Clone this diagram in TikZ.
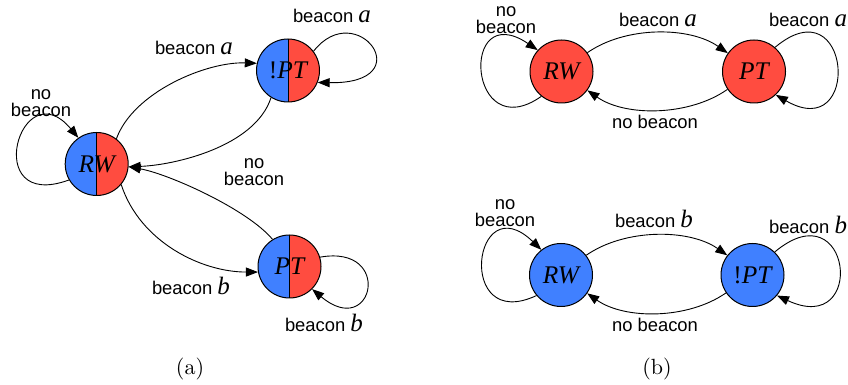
\documentclass[tikz,border=0pt]{standalone}
\usepackage{fontspec}
\newfontfamily\labfont{Liberation Sans}
\newfontfamily\tmfont{Liberation Serif}
\newfontfamily\capfont{lmroman10-regular.otf}
\usetikzlibrary{arrows.meta}
\definecolor{cblue}{RGB}{64,128,255}
\definecolor{cred}{RGB}{255,76,64}
\newcommand{\mv}[1]{{\fontsize{25}{25}\selectfont\tmfont\itshape #1}}
\newcommand{\stxt}[1]{{\fontsize{25.4}{26}\selectfont\tmfont #1}}
\tikzset{
  state/.style={circle, draw, line width=1pt, minimum size=63pt, inner sep=0pt},
  halfst/.style={state, path picture={
      \fill[cblue] (path picture bounding box.south west) rectangle (path picture bounding box.north);
      \fill[cred] (path picture bounding box.south) rectangle (path picture bounding box.north east);
      \draw[line width=1pt] (path picture bounding box.south) -- (path picture bounding box.north);}},
  redst/.style={state, fill=cred},
  bluest/.style={state, fill=cblue},
  lab/.style={font=\labfont\fontsize{18.4}{17}\selectfont, inner sep=0pt},
  capt/.style={inner sep=0pt, anchor=base},
  arr/.style={line width=0.9pt, -{Triangle[length=12pt,width=9pt]}},
}
\begin{document}
\begin{tikzpicture}[x=1pt,y=1pt]
\useasboundingbox (0,0) rectangle (848,385);
% ---------- (a) ----------
\node[halfst] (aRW) at (96.7,221) {\stxt{\itshape RW}};
\node[halfst] (anPT) at (288,314.5) {\stxt{!\itshape PT}};
\node[halfst] (aPT) at (289.5,118.5) {\stxt{\itshape PT}};

\draw[arr] (aRW.210) .. controls +(200:95) and +(130:90) .. (aRW.125);
\draw[arr] (aRW.52) .. controls +(70:50) and +(178:50) .. (anPT.167);
\draw[arr] (anPT.238) .. controls +(252:52) and +(2:45) .. (aRW.-5);
\draw[arr] (aPT.122) .. controls +(130:40) and +(-10:40) .. (aRW.-5);
\draw[arr] (aRW.-40) .. controls +(-72:60) and +(180:57) .. (aPT.190);
\draw[arr] (anPT.37) .. controls +(52:70) and +(-1:105) .. (anPT.-22);
\draw[arr] (aPT.17) .. controls +(10:75) and +(-40:80) .. (aPT.-45);

\node[lab, align=center] (la1) at (41,282) {no\\beacon};
\node[lab, anchor=base] (la2) at (194,330) {beacon \mv{a}};
\node[lab, anchor=base] (la3) at (332,362) {beacon \mv{a}};
\node[lab, align=center] (la4) at (254,213) {no\\beacon};
\node[lab, anchor=base] (la5) at (191,90) {beacon \mv{b}};
\node[lab, anchor=base] (la6) at (324,53) {beacon \mv{b}};
\node[capt] (capa) at (190,10.5) {\capfont\fontsize{22}{24}\selectfont (a)};

% ---------- (b) top ----------
\node[redst] (bRWa) at (561.5,313.5) {\stxt{\itshape RW}};
\node[redst] (bPTa) at (754,313.5) {\stxt{\itshape PT}};
\draw[arr] (bRWa.231) .. controls +(215:90) and +(146:95) .. (bRWa.138);
\draw[arr] (bRWa.36) to[out=35,in=145,looseness=0.85] (bPTa.145);
\draw[arr] (bPTa.214) to[out=215,in=-35,looseness=0.85] (bRWa.-36);
\draw[arr] (bPTa.49) .. controls +(40:100) and +(-30:100) .. (bPTa.-47);
\node[lab, align=center] (lb1) at (506,365) {no\\beacon};
\node[lab, anchor=base] (lb2) at (658,358) {beacon \mv{a}};
\node[lab, anchor=base] (lb3) at (808,358) {beacon \mv{a}};
\node[lab, anchor=base] (lb4) at (655,256) {no beacon};

% ---------- (b) bottom ----------
\node[bluest] (bRWb) at (561,110) {\stxt{\itshape RW}};
\node[bluest] (bnPTb) at (752.5,110) {\stxt{!\itshape PT}};
\draw[arr] (bRWb.220) .. controls +(205:90) and +(136:95) .. (bRWb.128);
\draw[arr] (bRWb.38) to[out=35,in=145,looseness=0.85] (bnPTb.142);
\draw[arr] (bnPTb.214) to[out=215,in=-35,looseness=0.85] (bRWb.-35);
\draw[arr] (bnPTb.46) .. controls +(40:100) and +(-25:100) .. (bnPTb.-40);
\node[lab, align=center] (lb5) at (505,171.5) {no\\beacon};
\node[lab, anchor=base] (lb6) at (654,157) {beacon \mv{b}};
\node[lab, anchor=base] (lb7) at (808,151) {beacon \mv{b}};
\node[lab, anchor=base] (lb8) at (655,53) {no beacon};
\node[capt] (capb) at (657,10.5) {\capfont\fontsize{22}{24}\selectfont (b)};
\end{tikzpicture}
\end{document}
